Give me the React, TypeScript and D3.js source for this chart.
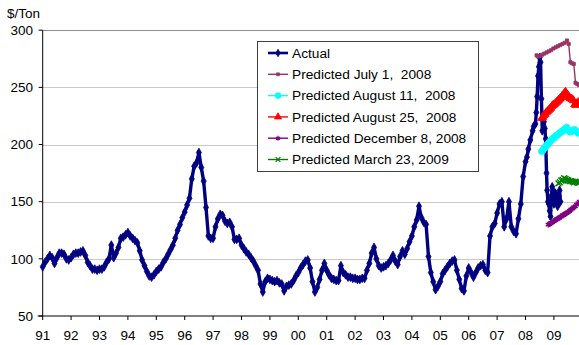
import React from "react";
import * as d3 from "d3";

// ---- DATA ----
const yTicks = [50, 100, 150, 200, 250, 300];
const xTickYears = [1991, 1992, 1993, 1994, 1995, 1996, 1997, 1998, 1999, 2000, 2001, 2002, 2003, 2004, 2005, 2006, 2007, 2008, 2009];
const xTickLabels = ["91", "92", "93", "94", "95", "96", "97", "98", "99", "00", "01", "02", "03", "04", "05", "06", "07", "08", "09"];

// Monthly actual prices, Jan 1991 .. Dec 2007
const actualMonthlyStart = 1991;
const actualMonthly = [
  93, 97, 100, 103, 101, 96, 101, 105, 105, 104, 100, 99,
  101, 104, 105, 105, 106, 107, 103, 97, 94, 91, 91, 90,
  91, 91, 93, 97, 100, 112, 101, 105, 110, 118, 119, 121,
  123, 120, 118, 116, 114, 107, 99, 94, 89, 85, 84, 86,
  89, 91, 93, 97, 100, 104, 108, 112, 118, 125, 130, 136,
  141, 147, 153, 170, 181, 184, 193, 180, 168, 145, 120, 118,
  118, 128, 135, 139, 138, 133, 131, 132, 128, 117, 117, 118,
  112, 109, 106, 104, 101, 98, 94, 90, 78, 71, 80, 83,
  82, 81, 80, 81, 79, 78, 72, 76, 77, 78, 81, 85,
  88, 92, 95, 98, 99, 92, 80, 71, 75, 82, 90, 96,
  90, 86, 83, 82, 81, 81, 94, 88, 86, 84, 84, 83,
  83, 82, 82, 83, 83, 90, 96, 105, 110, 100, 94, 92,
  93, 94, 96, 99, 103, 98, 95, 102, 107, 104, 109, 115,
  120, 128, 134, 146, 136, 132, 130, 102, 88, 80, 73, 76,
  80, 87, 90, 93, 96, 98, 99, 90, 82, 74, 72, 85,
  92, 88, 84, 88, 92, 94, 95, 90, 88, 120, 128, 131,
  140, 148, 150, 128, 135, 150, 128, 124, 122, 135, 148, 172,
];

// Finer actual data 2008-2009: [decimal year, price]
const actualLate: [number, number][] = [
  [2008.0, 185], [2008.05, 189], [2008.1, 196], [2008.17, 204], [2008.25, 212], [2008.29, 216],
  [2008.35, 218], [2008.38, 228], [2008.41, 242], [2008.44, 260], [2008.47, 268], [2008.5, 276],
  [2008.53, 272], [2008.56, 240], [2008.59, 212], [2008.62, 224], [2008.65, 220], [2008.68, 214],
  [2008.71, 205], [2008.74, 175], [2008.76, 160], [2008.79, 150], [2008.82, 148], [2008.85, 142],
  [2008.88, 137], [2008.91, 155], [2008.94, 163], [2008.97, 152], [2009.0, 148], [2009.03, 158],
  [2009.06, 157], [2009.1, 150], [2009.13, 146], [2009.17, 155], [2009.2, 160], [2009.23, 150],
];

const predJuly1: [number, number][] = [
  [2008.39, 278], [2008.44, 277], [2008.5, 277.5], [2008.58, 278.5], [2008.66, 279.5], [2008.74, 280.5],
  [2008.82, 281.5], [2008.9, 282.5], [2008.98, 284], [2009.06, 285], [2009.14, 286], [2009.22, 287],
  [2009.3, 288], [2009.38, 289], [2009.46, 291], [2009.52, 288], [2009.58, 272], [2009.64, 271],
  [2009.7, 270.5], [2009.76, 254], [2009.82, 253], [2009.88, 252],
];

const predAug11: [number, number][] = [
  [2008.57, 194], [2008.61, 195], [2008.65, 196.5], [2008.69, 197.5], [2008.73, 199], [2008.77, 200],
  [2008.81, 201], [2008.85, 202.5], [2008.89, 203.5], [2008.93, 204.5], [2008.97, 205.5], [2009.01, 206],
  [2009.05, 207], [2009.09, 208], [2009.13, 208.5], [2009.17, 209.5], [2009.21, 210], [2009.25, 211],
  [2009.29, 211.5], [2009.33, 212.5], [2009.37, 213], [2009.41, 214], [2009.45, 215], [2009.49, 213],
  [2009.53, 212], [2009.57, 211], [2009.61, 211.5], [2009.65, 212], [2009.69, 212.5], [2009.73, 213],
  [2009.77, 212], [2009.81, 211], [2009.86, 210],
];

const predAug25: [number, number][] = [
  [2008.57, 223], [2008.61, 224], [2008.65, 225.5], [2008.69, 226.5], [2008.73, 228], [2008.77, 229],
  [2008.81, 230], [2008.85, 231], [2008.89, 232], [2008.93, 233.5], [2008.97, 234.5], [2009.01, 235],
  [2009.05, 236], [2009.09, 237], [2009.13, 238], [2009.17, 239], [2009.21, 240], [2009.25, 241],
  [2009.29, 242.5], [2009.33, 243.5], [2009.37, 245], [2009.41, 246], [2009.45, 244], [2009.49, 243],
  [2009.53, 241.5], [2009.57, 240.5], [2009.61, 240], [2009.65, 239.5], [2009.69, 238.5], [2009.73, 235],
  [2009.77, 234.5], [2009.81, 236], [2009.86, 237],
];

const predDec8: [number, number][] = [
  [2008.8, 130], [2008.85, 130.5], [2008.9, 131.5], [2008.95, 132], [2009.0, 133], [2009.05, 134],
  [2009.1, 134.5], [2009.15, 135.5], [2009.2, 136], [2009.25, 137], [2009.3, 138], [2009.35, 138.5],
  [2009.4, 139.5], [2009.45, 140], [2009.5, 141], [2009.55, 142], [2009.6, 143], [2009.65, 144],
  [2009.7, 145], [2009.75, 146], [2009.8, 147.5], [2009.85, 148.5], [2009.9, 150],
];

const predMar23: [number, number][] = [
  [2009.16, 166], [2009.21, 167], [2009.26, 168.5], [2009.31, 169], [2009.36, 170.5], [2009.41, 170],
  [2009.46, 169], [2009.51, 168.5], [2009.56, 168], [2009.61, 168], [2009.66, 167.5], [2009.71, 167],
  [2009.76, 167.5], [2009.81, 167], [2009.86, 166.5], [2009.9, 167],
];

const legendLabels = [
  "Actual",
  "Predicted July 1,  2008",
  "Predicted August 11,  2008",
  "Predicted August 25,  2008",
  "Predicted December 8, 2008",
  "Predicted March 23, 2009",
];

// ---- STYLES ----
type SeriesStyle = {
  color: string;
  width: number;
  symbol: d3.SymbolType;
  size: number;
  filled: boolean;
};

const styles: SeriesStyle[] = [
  { color: "#000080", width: 3.4, symbol: d3.symbolDiamond, size: 22, filled: true },
  { color: "#993366", width: 1.4, symbol: d3.symbolSquare, size: 10, filled: true },
  { color: "#00FFFF", width: 1.4, symbol: d3.symbolCircle, size: 32, filled: true },
  { color: "#FF0000", width: 1.4, symbol: d3.symbolTriangle, size: 28, filled: true },
  { color: "#800080", width: 1.4, symbol: d3.symbolAsterisk, size: 24, filled: false },
  { color: "#008000", width: 1.4, symbol: d3.symbolTimes, size: 24, filled: false },
];

const legendSizes = [16, 8, 26, 22, 16, 16];

const W = 579;
const H = 345;
const FONT = "'Liberation Sans', Arial, sans-serif";

export default function App() {
  const x = d3.scaleLinear().domain([1991, 2009.95]).range([42.7, 580.9]);
  const y = d3.scaleLinear().domain([50, 300]).range([316, 30.2]);

  const actualData: [number, number][] = [
    ...actualMonthly.map((v, i) => [actualMonthlyStart + i / 12, v] as [number, number]),
    ...actualLate,
  ];
  const allSeries = [actualData, predJuly1, predAug11, predAug25, predDec8, predMar23];

  const line = d3
    .line<[number, number]>()
    .x((d) => x(d[0]))
    .y((d) => y(d[1]));

  const sym = (s: SeriesStyle, size?: number) => d3.symbol().type(s.symbol).size(size ?? s.size)() || "";

  const plotRight = W;
  const legX = 257;
  const legY = 41;
  const legW = 221;
  const legH = 130;

  return (
    <svg
      width={W}
      height={H}
      style={{ position: "absolute", left: 0, top: 0, background: "#fff" }}
      fontFamily={FONT}
    >
      <rect x={0} y={0} width={W} height={H} fill="#fff" />
      {/* gridlines */}
      {yTicks
        .filter((t) => t > 50)
        .map((t) => (
          <line
            key={"g" + t}
            x1={x(1991)}
            x2={plotRight}
            y1={Math.round(y(t)) + 0.5}
            y2={Math.round(y(t)) + 0.5}
            stroke={t === 300 ? "#909090" : "#c8c8c8"}
            strokeWidth={1}
          />
        ))}
      {/* axes */}
      <line x1={x(1991)} x2={x(1991)} y1={y(300)} y2={y(50)} stroke="#000" strokeWidth={1} />
      <line x1={x(1991) - 5} x2={plotRight} y1={y(50)} y2={y(50)} stroke="#000" strokeWidth={1} />
      {yTicks.map((t) => (
        <g key={"yt" + t}>
          <line x1={x(1991) - 4} x2={x(1991)} y1={y(t)} y2={y(t)} stroke="#000" />
          <text x={33} y={y(t)} dy="0.35em" textAnchor="end" fontSize={13.5} fill="#000">
            {t}
          </text>
        </g>
      ))}
      {xTickYears.map((yr, i) => (
        <g key={"xt" + yr}>
          <line x1={x(yr)} x2={x(yr)} y1={y(50)} y2={y(50) + 4} stroke="#000" />
          <text x={x(yr)} y={340} textAnchor="middle" fontSize={13.5} fill="#000">
            {xTickLabels[i]}
          </text>
        </g>
      ))}
      <text x={7} y={18} fontSize={13.5} fill="#000">
        $/Ton
      </text>

      {/* series */}
      {allSeries.map((data, si) => {
        const s = styles[si];
        const p = sym(s);
        return (
          <g key={"s" + si}>
            <path d={line(data) || ""} fill="none" stroke={s.color} strokeWidth={s.width} strokeLinejoin="round" />
            {data.map((d, j) => (
              <path
                key={j}
                d={p}
                transform={`translate(${x(d[0])},${y(d[1])})`}
                fill={s.filled ? s.color : "none"}
                stroke={s.color}
                strokeWidth={s.filled ? 0.8 : 1.4}
              />
            ))}
          </g>
        );
      })}

      {/* legend */}
      <rect x={legX + 0.5} y={legY + 0.5} width={legW} height={legH} fill="#fff" stroke="#404040" strokeWidth={1} />
      {legendLabels.map((lab, i) => {
        const s = styles[i];
        const cy = 53 + i * 21.3;
        return (
          <g key={"l" + i}>
            <line x1={268} x2={288} y1={cy} y2={cy} stroke={s.color} strokeWidth={i === 0 ? 2.6 : 1.4} />
            <path
              d={sym(s, legendSizes[i])}
              transform={`translate(278,${cy})`}
              fill={s.filled ? s.color : "none"}
              stroke={s.color}
              strokeWidth={s.filled ? 0.8 : 1.2}
            />
            <text x={292} y={cy} dy="0.35em" fontSize={13.7} fill="#000" style={{ whiteSpace: "pre" }}>
              {lab}
            </text>
          </g>
        );
      })}
    </svg>
  );
}
